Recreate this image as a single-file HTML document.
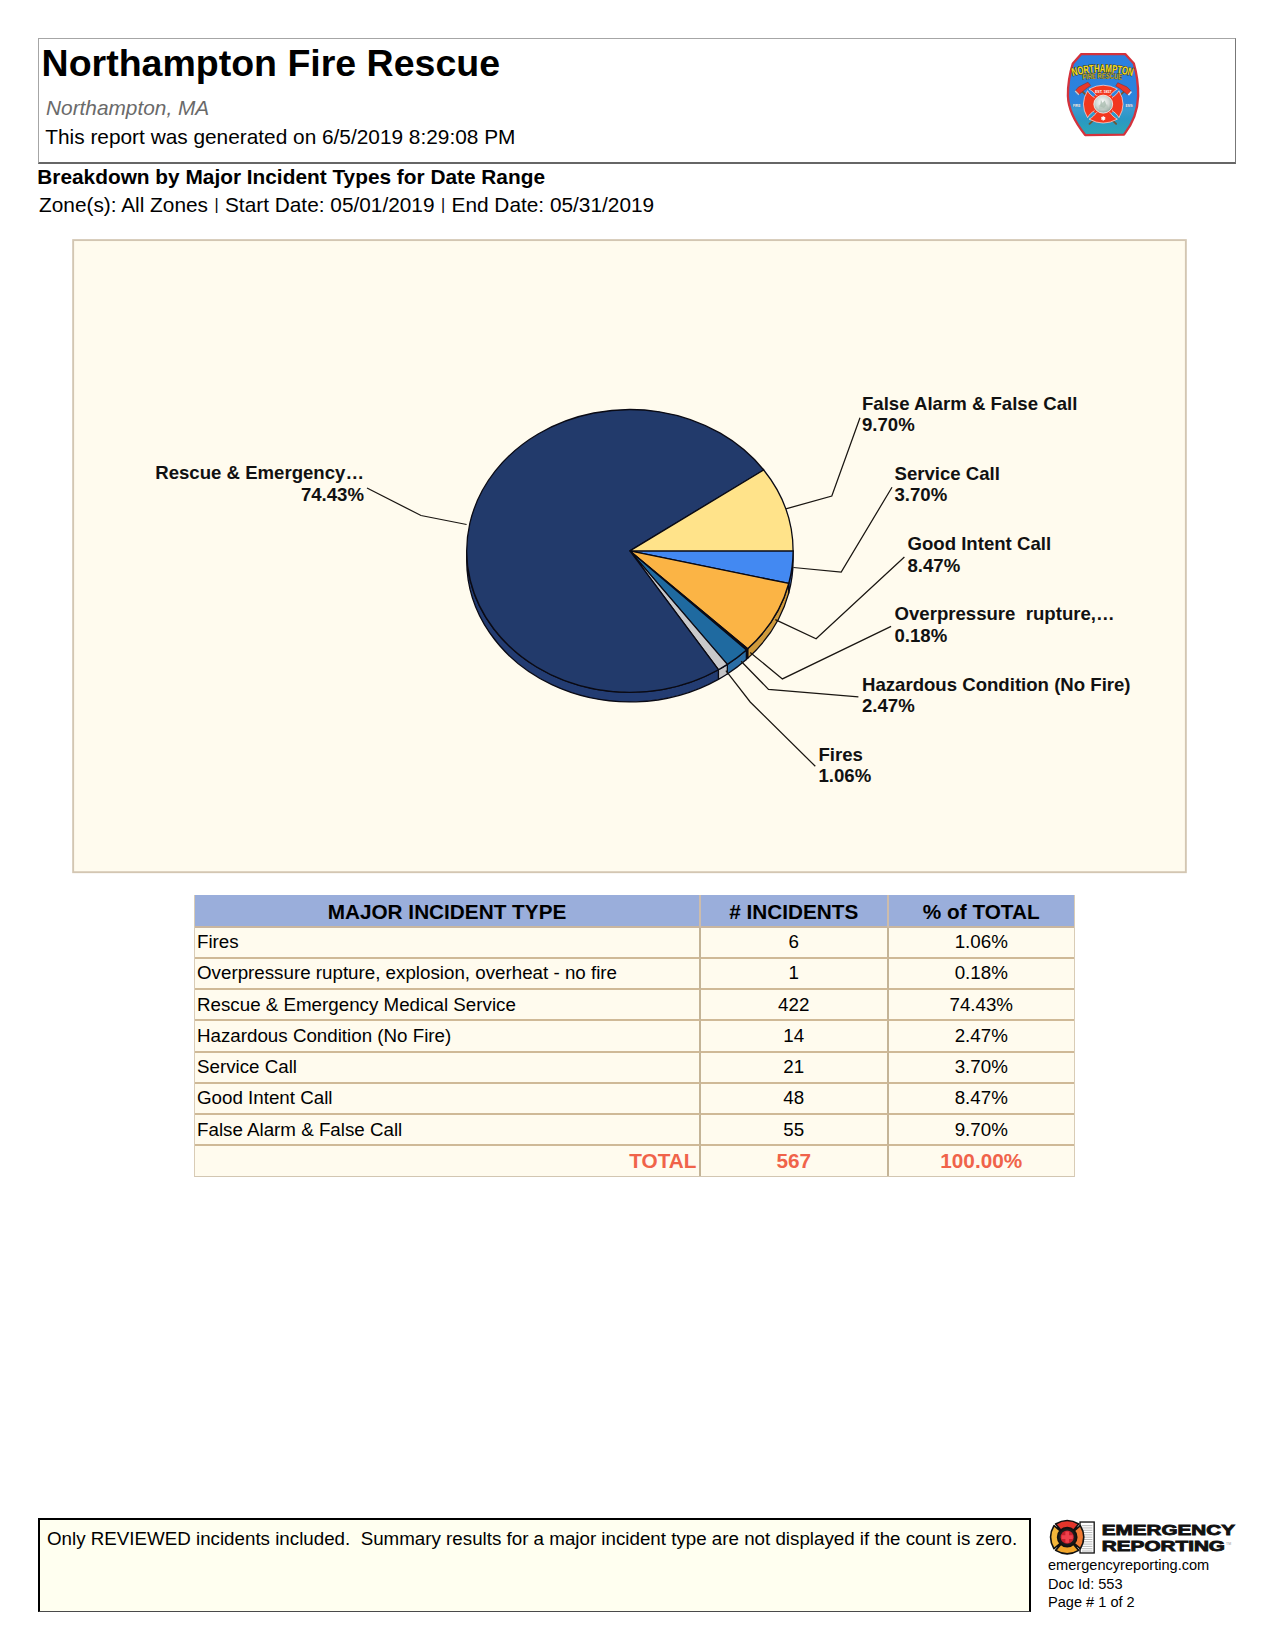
<!DOCTYPE html>
<html lang="en">
<head>
<meta charset="utf-8">
<title>Northampton Fire Rescue - Breakdown by Major Incident Types</title>
<style>
html,body{margin:0;padding:0;background:#fff;}
body{width:1275px;height:1650px;position:relative;overflow:hidden;font-family:"Liberation Sans",Arial,Helvetica,sans-serif;color:#000;}
.abs{position:absolute;white-space:nowrap;}
#hdr{position:absolute;box-sizing:border-box;left:38px;top:38px;width:1198px;height:126px;border-style:solid;border-width:1px 1px 2px 1px;border-color:#a6a6a6 #777 #666 #a6a6a6;background:#fff;}
#title{left:41.6px;top:40.7px;font-size:37.5px;line-height:44px;font-weight:bold;}
.t10{font-size:20.83px;line-height:24px;}
#city{left:46px;top:95.8px;font-style:italic;color:#6a6a6a;}
#gen{left:45.3px;top:125px;}
#sub1{left:37.3px;top:164.9px;font-weight:bold;}
#sub2{left:39px;top:193px;}
.bar{font-size:0.76em;position:relative;top:-0.13em;padding:0 0.04em;}
svg.ov{position:absolute;left:0;top:0;}
svg text{font-family:"Liberation Sans",Arial,Helvetica,sans-serif;}
#tbl{position:absolute;left:194px;top:895px;border-collapse:separate;border-spacing:0;table-layout:fixed;width:881px;font-size:18.75px;border-left:1px solid #d9ccb6;border-right:1px solid #d9ccb6;border-bottom:1px solid #d2c6b2;}
#tbl th,#tbl td{box-sizing:border-box;border-bottom:2px solid #cfb997;border-right:2px solid #c4b497;height:31.27px;padding:0;text-align:center;background:#fffbee;line-height:22px;overflow:hidden;white-space:nowrap;}
#tbl th:last-child,#tbl td:last-child{border-right:none;}
#tbl th{background:#9aaedb;font-size:20.75px;font-weight:bold;height:32.5px;border-right-color:#cdbcab;border-bottom-color:#c9b6a0;padding-top:3px;}
#tbl td.l{text-align:left;padding-left:2px;}
#tbl tr.tot td{color:#f0634a;font-weight:bold;font-size:20.75px;border-bottom:none;height:29.6px;}
#tbl tr.tot td.r{text-align:right;padding-right:2.5px;}
#note{position:absolute;box-sizing:border-box;left:38px;top:1518px;width:993px;height:94px;border-style:solid;border-color:#000 #000 #4a4a4a #000;border-width:2px 2px 1px 2px;background:#fffff0;}
#notetxt{left:47px;top:1527.6px;font-size:18.75px;line-height:22px;}
.ft{font-size:14.58px;line-height:18px;left:1048px;}
</style>
</head>
<body>
<div id="hdr"></div>
<div id="title" class="abs">Northampton Fire Rescue</div>
<div id="city" class="abs t10">Northampton, MA</div>
<div id="gen" class="abs t10">This report was generated on 6/5/2019 8:29:08 PM</div>
<div id="sub1" class="abs t10">Breakdown by Major Incident Types for Date Range</div>
<div id="sub2" class="abs t10">Zone(s): All Zones <span class="bar">|</span> Start Date: 05/01/2019 <span class="bar">|</span> End Date: 05/31/2019</div>
<svg class="ov" width="1275" height="1650" viewBox="0 0 1275 1650">
<rect x="73.15" y="240.1" width="1112.7" height="632.1" fill="#fffbee" stroke="#d3c6b2" stroke-width="1.9"/>
<g id="pie">
<path d="M793.10,550.90 A163.2,141.4 0 0 1 788.71,583.47 L788.71,593.07 A163.2,141.4 0 0 0 793.10,560.50 Z" fill="#3a78d8" stroke="#0a0a14" stroke-width="1.3" stroke-linejoin="round"/>
<path d="M788.71,583.47 A163.2,141.4 0 0 1 747.68,648.78 L747.68,658.38 A163.2,141.4 0 0 0 788.71,593.07 Z" fill="#cf9a3c" stroke="#0a0a14" stroke-width="1.3" stroke-linejoin="round"/>
<path d="M747.68,648.78 A163.2,141.4 0 0 1 746.39,649.93 L746.39,659.53 A163.2,141.4 0 0 0 747.68,658.38 Z" fill="#111111" stroke="#0a0a14" stroke-width="1.3" stroke-linejoin="round"/>
<path d="M746.39,649.93 A163.2,141.4 0 0 1 727.33,664.34 L727.33,673.94 A163.2,141.4 0 0 0 746.39,659.53 Z" fill="#2a6da5" stroke="#0a0a14" stroke-width="1.3" stroke-linejoin="round"/>
<path d="M727.33,664.34 A163.2,141.4 0 0 1 718.40,669.71 L718.40,679.31 A163.2,141.4 0 0 0 727.33,673.94 Z" fill="#c4c4c6" stroke="#0a0a14" stroke-width="1.3" stroke-linejoin="round"/>
<path d="M718.40,669.71 A163.2,141.4 0 0 1 466.70,550.90 L466.70,560.50 A163.2,141.4 0 0 0 718.40,679.31 Z" fill="#233c72" stroke="#0a0a14" stroke-width="1.3" stroke-linejoin="round"/>
<path d="M629.9,550.9 L793.10,550.90 A163.2,141.4 0 0 1 788.71,583.47 Z" fill="#4389f2" stroke="#0a0a14" stroke-width="1.3" stroke-linejoin="round"/>
<path d="M629.9,550.9 L788.71,583.47 A163.2,141.4 0 0 1 747.68,648.78 Z" fill="#fbb445" stroke="#0a0a14" stroke-width="1.3" stroke-linejoin="round"/>
<path d="M629.9,550.9 L747.68,648.78 A163.2,141.4 0 0 1 746.39,649.93 Z" fill="#111111" stroke="#0a0a14" stroke-width="1.3" stroke-linejoin="round"/>
<path d="M629.9,550.9 L746.39,649.93 A163.2,141.4 0 0 1 727.33,664.34 Z" fill="#1f6aa0" stroke="#0a0a14" stroke-width="1.3" stroke-linejoin="round"/>
<path d="M629.9,550.9 L727.33,664.34 A163.2,141.4 0 0 1 718.40,669.71 Z" fill="#c9c9cb" stroke="#0a0a14" stroke-width="1.3" stroke-linejoin="round"/>
<path d="M629.9,550.9 L718.40,669.71 A163.2,141.4 0 1 1 763.72,469.97 Z" fill="#223a6b" stroke="#0a0a14" stroke-width="1.3" stroke-linejoin="round"/>
<path d="M629.9,550.9 L763.72,469.97 A163.2,141.4 0 0 1 793.10,550.90 Z" fill="#ffe38a" stroke="#0a0a14" stroke-width="1.3" stroke-linejoin="round"/>
</g>
<g id="leaders" fill="none" stroke="#1a1612" stroke-width="1.25">
<polyline points="466.6,524.5 421,515.5 367,488"/>
<polyline points="785.8,508.8 831.8,496 860,417.7"/>
<polyline points="793.4,567.5 841.2,572 892,487.3"/>
<polyline points="775.3,619.6 816.1,638.7 904.4,557"/>
<polyline points="750.2,652.5 782.4,678.9 891.1,626.4"/>
<polyline points="741.1,661.2 768.5,689.4 858.4,696.8"/>
<polyline points="725.9,670.6 750.2,702 815.3,766.3"/>
</g>
<g id="labels" font-size="18.6" font-weight="bold" fill="#111">
<text x="364" y="479" text-anchor="end">Rescue &amp; Emergency…</text>
<text x="364" y="501" text-anchor="end">74.43%</text>
<text x="862" y="409.5">False Alarm &amp; False Call</text>
<text x="862" y="431">9.70%</text>
<text x="894.5" y="479.5">Service Call</text>
<text x="894.5" y="501">3.70%</text>
<text x="907.5" y="549.5">Good Intent Call</text>
<text x="907.5" y="571.5">8.47%</text>
<text x="894.5" y="620">Overpressure&#160; rupture,…</text>
<text x="894.5" y="641.5">0.18%</text>
<text x="862" y="690.5">Hazardous Condition (No Fire)</text>
<text x="862" y="712">2.47%</text>
<text x="818.5" y="760.5">Fires</text>
<text x="818.5" y="782">1.06%</text>
</g>
<g id="badge" transform="translate(1055,48.08) scale(0.078431,0.07495)">
<defs>
<linearGradient id="bg1" x1="0" y1="0" x2="0" y2="1">
<stop offset="0" stop-color="#2b7fe0"/><stop offset="0.6" stop-color="#2c84dc"/><stop offset="0.68" stop-color="#3a9ad0"/><stop offset="0.8" stop-color="#2a97c4"/><stop offset="1" stop-color="#2ba7b4"/>
</linearGradient>
<radialGradient id="bg2" cx="0.45" cy="0.4" r="0.6">
<stop offset="0" stop-color="#ffffff"/><stop offset="0.6" stop-color="#cfd6d2"/><stop offset="1" stop-color="#8fa39a"/>
</radialGradient>
<path id="arcA" d="M228,374 Q607,273 987,374"/>
<path id="arcB" d="M357,421 Q603,389 849,421"/>
</defs>
<path d="M335,80 L895,80 L1005,205 C1040,330 1062,480 1060,640 C1055,830 990,1010 880,1155 L385,1160 C270,1010 170,830 165,640 C163,480 190,330 228,205 Z" fill="url(#bg1)" stroke="#d4323c" stroke-width="30" stroke-linejoin="round"/>
<!-- axes -->
<g stroke-linecap="round">
<line x1="330" y1="560" x2="780" y2="1010" stroke="#6e5636" stroke-width="24"/>
<line x1="900" y1="560" x2="440" y2="1010" stroke="#6e5636" stroke-width="24"/>
</g>
<path d="M262,565 L300,520 L420,455 L455,500 L400,540 L310,615 Z" fill="#e8382c" stroke="#8a1d18" stroke-width="6"/>
<path d="M800,462 L920,520 L968,572 L925,622 L835,545 L775,505 Z" fill="#e8382c" stroke="#8a1d18" stroke-width="6"/>
<path d="M925,622 L968,572 L980,590 L945,632 Z" fill="#e8e8f0"/>
<path d="M262,565 L310,615 L298,628 L252,580 Z" fill="#d8c8c0"/>
<!-- maltese cross -->
<g transform="translate(615,748)" fill="#f2381f" stroke="#ffffff" stroke-width="8" stroke-linejoin="round">
<circle r="160" fill="#f2381f" stroke="none"/>
<path d="M-88,-112 C-108,-145 -138,-178 -180,-200 Q0,-305 180,-200 C138,-178 108,-145 88,-112 Z"/>
<path d="M-88,-112 C-108,-145 -138,-178 -180,-200 Q0,-305 180,-200 C138,-178 108,-145 88,-112 Z" transform="rotate(90)"/>
<path d="M-88,-112 C-108,-145 -138,-178 -180,-200 Q0,-305 180,-200 C138,-178 108,-145 88,-112 Z" transform="rotate(180)"/>
<path d="M-88,-112 C-108,-145 -138,-178 -180,-200 Q0,-305 180,-200 C138,-178 108,-145 88,-112 Z" transform="rotate(270)"/>
<circle r="140" fill="#f2381f" stroke="none"/>
<circle r="120" fill="url(#bg2)" stroke="#ffffff" stroke-width="10"/>
<path d="M-30,-60 L-10,-20 L20,-50 L40,10 L10,50 L-40,30 Z" fill="#9fb5a6" stroke="none" opacity="0.7"/>
<path d="M-60,20 L-20,-10 L0,40 L50,0 L70,60 L-50,70 Z" fill="#aebfb4" stroke="none" opacity="0.6"/>
</g>
<g transform="translate(615,938)" fill="#fff"><rect x="-9" y="-28" width="18" height="56"/><rect x="-9" y="-28" width="18" height="56" transform="rotate(60)"/><rect x="-9" y="-28" width="18" height="56" transform="rotate(120)"/></g>
<g font-weight="bold" text-anchor="middle" font-family="&quot;Liberation Sans&quot;,Arial,sans-serif">
<text font-size="150" fill="#f5de1c" stroke="#3a3010" stroke-width="14" paint-order="stroke" textLength="770" lengthAdjust="spacingAndGlyphs"><textPath href="#arcA" startOffset="50%">NORTHAMPTON</textPath></text>
<text font-size="104" fill="#c9b21c" stroke="#3a3010" stroke-width="8" paint-order="stroke" textLength="500" lengthAdjust="spacingAndGlyphs"><textPath href="#arcB" startOffset="50%">FIRE RESCUE</textPath></text>
<text x="276" y="786" font-size="42" fill="#ffffff" stroke="#1a2a60" stroke-width="3" paint-order="stroke">FIRE</text>
<text x="945" y="786" font-size="42" fill="#ffffff" stroke="#1a2a60" stroke-width="3" paint-order="stroke">EMS</text>
<text x="615" y="598" font-size="46" fill="#ffffff">EST. 1857</text>
</g>
</g>

<g id="erlogo">
<g transform="translate(1040,1510) scale(0.16471)">
<rect x="243" y="73" width="86" height="188" fill="#ffffff" stroke="#111" stroke-width="8"/>
<g stroke="#a8a8a8" stroke-width="5">
<line x1="255" y1="95" x2="318" y2="95"/><line x1="255" y1="109" x2="318" y2="109"/><line x1="255" y1="123" x2="318" y2="123"/><line x1="255" y1="137" x2="318" y2="137"/><line x1="255" y1="151" x2="318" y2="151"/><line x1="255" y1="165" x2="318" y2="165"/><line x1="255" y1="179" x2="318" y2="179"/><line x1="255" y1="193" x2="318" y2="193"/><line x1="255" y1="207" x2="318" y2="207"/><line x1="255" y1="221" x2="318" y2="221"/><line x1="255" y1="235" x2="318" y2="235"/><line x1="255" y1="249" x2="318" y2="249"/>
</g>
<g transform="translate(165,165)" stroke="#111" stroke-width="10" stroke-linejoin="round">
<circle r="80" fill="#111"/>
<path d="M-38,-42 L-70,-80 Q0,-122 70,-80 L38,-42 Z" fill="#e3352b"/>
<path d="M-38,-42 L-70,-80 Q0,-122 70,-80 L38,-42 Z" transform="rotate(90)" fill="#f07a32"/>
<path d="M-38,-42 L-70,-80 Q0,-122 70,-80 L38,-42 Z" transform="rotate(180)" fill="#f2a52a"/>
<path d="M-38,-42 L-70,-80 Q0,-122 70,-80 L38,-42 Z" transform="rotate(270)" fill="#f4b63a"/>
<circle r="58" fill="#1a1a1a" stroke="#111"/>
<circle r="40" fill="#c8202c" stroke="none"/>
<path d="M-11,-34 h22 v23 h23 v22 h-23 v23 h-22 v-23 h-23 v-22 h23 z" fill="#f0404c" stroke="none"/>
</g>
</g>
<g font-family="&quot;Liberation Sans&quot;,Arial,sans-serif" font-weight="bold" fill="#111" stroke="#111" stroke-width="0.8">
<text x="1101.8" y="1534.8" font-size="13.9" textLength="133.2" lengthAdjust="spacingAndGlyphs">EMERGENCY</text>
<text x="1101.8" y="1551.3" font-size="13.9" textLength="123.2" lengthAdjust="spacingAndGlyphs">REPORTING</text>
</g>
<text x="1226" y="1545" font-size="3.5" fill="#999" font-family="&quot;Liberation Sans&quot;,Arial,sans-serif">TM</text>
</g>

</svg>
<table id="tbl">
<colgroup><col style="width:506px"><col style="width:187.5px"><col style="width:185.5px"></colgroup>
<thead><tr><th>MAJOR INCIDENT TYPE</th><th># INCIDENTS</th><th>% of TOTAL</th></tr></thead>
<tbody>
<tr><td class="l">Fires</td><td>6</td><td>1.06%</td></tr>
<tr><td class="l">Overpressure rupture, explosion, overheat - no fire</td><td>1</td><td>0.18%</td></tr>
<tr><td class="l">Rescue &amp; Emergency Medical Service</td><td>422</td><td>74.43%</td></tr>
<tr><td class="l">Hazardous Condition (No Fire)</td><td>14</td><td>2.47%</td></tr>
<tr><td class="l">Service Call</td><td>21</td><td>3.70%</td></tr>
<tr><td class="l">Good Intent Call</td><td>48</td><td>8.47%</td></tr>
<tr><td class="l">False Alarm &amp; False Call</td><td>55</td><td>9.70%</td></tr>
<tr class="tot"><td class="r">TOTAL</td><td>567</td><td>100.00%</td></tr>
</tbody>
</table>
<div id="note"></div>
<div id="notetxt" class="abs">Only REVIEWED incidents included.&nbsp; Summary results for a major incident type are not displayed if the count is zero.</div>
<div class="abs ft" style="top:1556.35px">emergencyreporting.com</div>
<div class="abs ft" style="top:1574.75px">Doc Id: 553</div>
<div class="abs ft" style="top:1592.85px">Page # 1 of 2</div>
</body>
</html>
